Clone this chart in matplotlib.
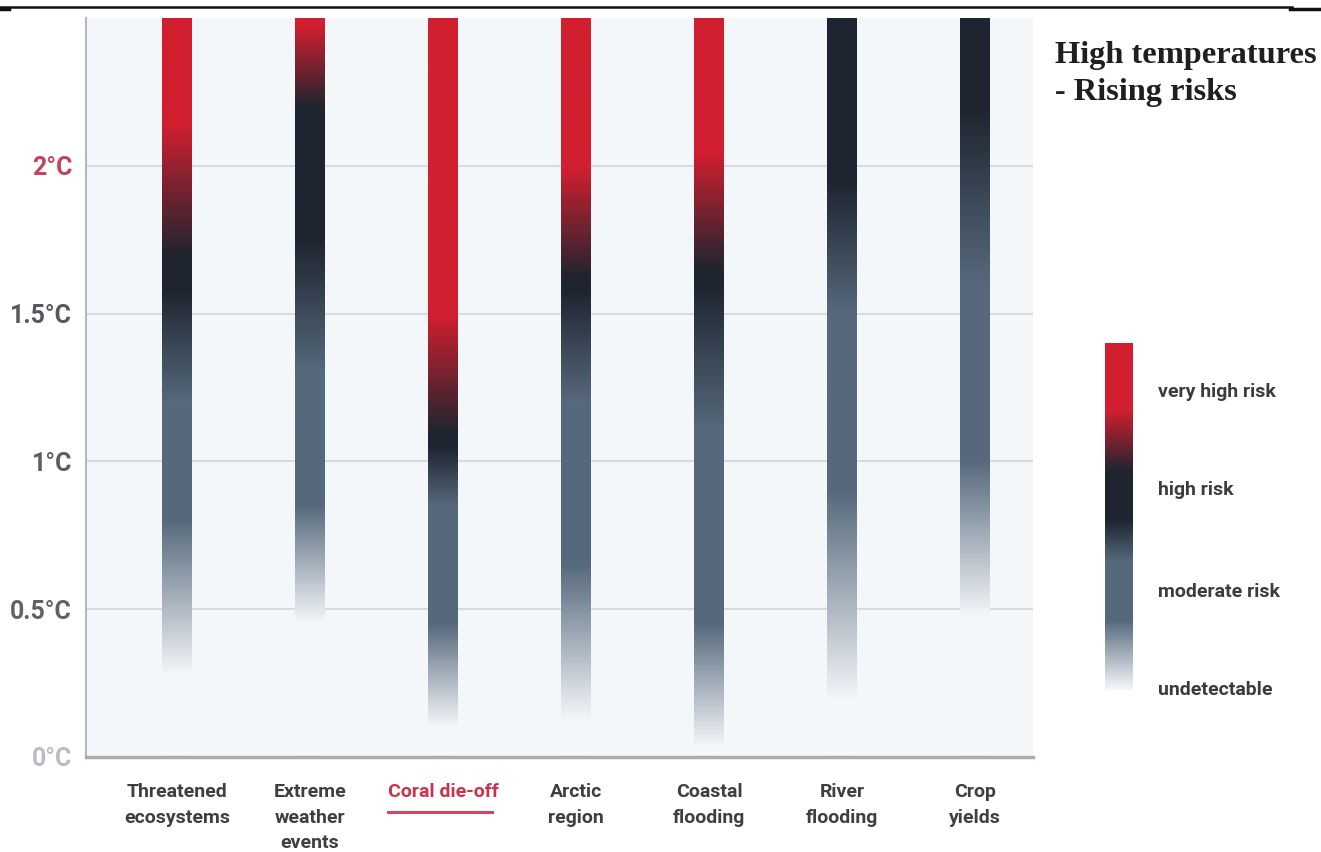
import numpy as np
import matplotlib
matplotlib.use("Agg")
import matplotlib.pyplot as plt
from matplotlib import font_manager
from matplotlib.colors import LinearSegmentedColormap
from matplotlib.lines import Line2D

# ---------------- data ----------------
categories = ["Threatened\necosystems", "Extreme\nweather\nevents", "Coral die-off",
              "Arctic\nregion", "Coastal\nflooding", "River\nflooding", "Crop\nyields"]
# risk level anchors (temperature °C, level 0=undetectable .. 3=very high)
threatened_t = [0.27, 0.80, 1.20, 1.58, 1.70, 2.15, 2.50]
threatened_l = [0, 1, 1, 2, 2, 3, 3]
extreme_t = [0.45, 0.85, 1.30, 1.75, 2.20, 2.48, 2.50]
extreme_l = [0, 1, 1, 2, 2, 3, 3]
coral_t = [0.10, 0.45, 0.85, 1.05, 1.10, 1.50, 2.50]
coral_l = [0, 1, 1, 2, 2, 3, 3]
arctic_t = [0.12, 0.65, 1.20, 1.58, 1.62, 2.00, 2.50]
arctic_l = [0, 1, 1, 2, 2, 3, 3]
coastal_t = [0.03, 0.45, 1.10, 1.60, 1.65, 2.05, 2.50]
coastal_l = [0, 1, 1, 2, 2, 3, 3]
river_t = [0.18, 0.90, 1.50, 1.95, 2.50]
river_l = [0, 1, 1, 2, 2]
crop_t = [0.47, 1.00, 1.60, 2.20, 2.50]
crop_l = [0, 1, 1, 2, 2]
legend_pos = [0.0, 0.20, 0.37, 0.49, 0.63, 0.81, 1.0]
legend_lvl = [0, 1, 1, 2, 2, 3, 3]
legend_labels = ["undetectable", "moderate risk", "high risk", "very high risk"]
yticks = [0, 0.5, 1, 1.5, 2]
ytick_labels = ["0°C", "0.5°C", "1°C", "1.5°C", "2°C"]
ymax = 2.5
title_lines = ["High temperatures", "- Rising risks"]

profiles = [(threatened_t, threatened_l), (extreme_t, extreme_l), (coral_t, coral_l),
            (arctic_t, arctic_l), (coastal_t, coastal_l), (river_t, river_l), (crop_t, crop_l)]

# ---------------- style ----------------
avail = {f.name for f in font_manager.fontManager.ttflist}
if "Liberation Sans Narrow" in avail:
    cond = "Liberation Sans Narrow"
elif "DejaVu Sans Condensed" in avail:
    cond = "DejaVu Sans Condensed"
else:
    cond = "Roboto"
serif = "Liberation Serif" if "Liberation Serif" in avail else "DejaVu Serif"

bg = "#f4f7fa"
col_levels = [bg, "#56697c", "#1e2530", "#d21f2f"]
cmap = LinearSegmentedColormap.from_list(
    "risk", list(zip([0, 1/3, 2/3, 1], col_levels)))

W, H = 1321, 852
fig = plt.figure(figsize=(W/100, H/100), dpi=100)
fig.patch.set_facecolor("white")

def fx(px): return px / W
def fy(py): return 1 - py / H

ax_l, ax_r, ax_t, ax_b = 86, 1033, 18, 757
ax = fig.add_axes([fx(ax_l), fy(ax_b), fx(ax_r) - fx(ax_l), fy(ax_t) - fy(ax_b)])
ax.set_facecolor(bg)

x_first, spacing = 177, 133
xlim = (-(x_first - ax_l) / spacing, (ax_r - x_first) / spacing)

for y in yticks[1:]:
    ax.axhline(y, color="#d3d8dd", lw=1.3, zorder=1)

bar_w = 30 / spacing
ts = np.linspace(0, ymax, 600)
for i, (t, l) in enumerate(profiles):
    lev = np.interp(ts, t, l, left=0, right=l[-1]) / 3.0
    ax.imshow(lev[:, None], cmap=cmap, vmin=0, vmax=1, origin="lower", aspect="auto",
              extent=(i - bar_w/2, i + bar_w/2, 0, ymax), zorder=2,
              interpolation="bilinear")
ax.set_xlim(*xlim)
ax.set_ylim(0, ymax)

for s in ["top", "right"]:
    ax.spines[s].set_visible(False)
ax.spines["left"].set_color("#b4b8bc")
ax.spines["left"].set_linewidth(1.5)
ax.spines["bottom"].set_color("#a9adb2")
ax.spines["bottom"].set_linewidth(2.5)
ax.spines["bottom"].set_zorder(5)

ax.set_yticks(yticks)
ax.set_yticklabels(ytick_labels, fontfamily=cond, fontweight="bold", fontsize=18)
ycols = ["#b9bdc3", "#5f6368", "#5a5e63", "#55595e", "#c0445e"]
for lab, c in zip(ax.get_yticklabels(), ycols):
    lab.set_color(c)
ax.tick_params(axis="y", length=0, pad=10)

ax.set_xticks(range(len(categories)))
ax.set_xticklabels(categories, fontfamily=cond, fontweight="bold", fontsize=14,
                   linespacing=1.52, va="top")
for i, lab in enumerate(ax.get_xticklabels()):
    lab.set_color("#c8344c" if i == 2 else "#3d3f42")
ax.tick_params(axis="x", length=0, pad=19)

# underline for highlighted category
fig.add_artist(Line2D([fx(388), fx(492)], [fy(812), fy(812)], color="#d0485e", lw=2.2))

# title
for line, base in zip(title_lines, [63, 100]):
    fig.text(fx(1055), fy(base), line, fontfamily=serif, fontweight="bold",
             fontsize=23.3, color="#1f1f1f", va="baseline", ha="left")

# top rule
fig.add_artist(Line2D([0, fx(1292)], [fy(7), fy(7)], color="#111111", lw=1.8))
fig.add_artist(Line2D([fx(1290), 1], [fy(9), fy(9)], color="#111111", lw=2.5))
fig.add_artist(Line2D([0, fx(9)], [fy(9), fy(9)], color="#111111", lw=2.5))

# legend bar
lg = fig.add_axes([fx(1105), fy(690), fx(1133) - fx(1105), fy(343) - fy(690)])
ps = np.linspace(0, 1, 400)
llev = np.interp(ps, legend_pos, legend_lvl) / 3.0
lg.imshow(llev[:, None], cmap=cmap, vmin=0, vmax=1, origin="lower", aspect="auto",
          extent=(0, 1, 0, 1), interpolation="bilinear")
lg.set_axis_off()
leg_y = [690, 592, 490, 392]
for lab, py in zip(legend_labels, leg_y):
    fig.text(fx(1158), fy(py), lab, fontfamily=cond, fontweight="bold", fontsize=14,
             color="#3a3c40", va="center", ha="left")

fig.savefig("out.png", dpi=100, facecolor="white")
